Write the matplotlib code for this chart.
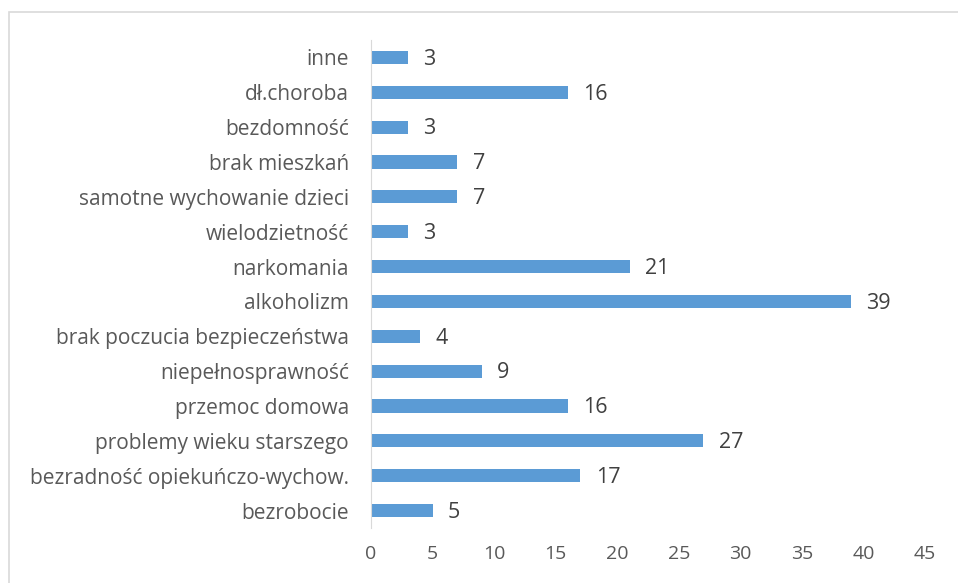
import matplotlib.pyplot as plt
from matplotlib.patches import Rectangle

categories = ["bezrobocie", "bezradność opiekuńczo-wychow.", "problemy wieku starszego",
              "przemoc domowa", "niepełnosprawność", "brak poczucia bezpieczeństwa",
              "alkoholizm", "narkomania", "wielodzietność", "samotne wychowanie dzieci",
              "brak mieszkań", "bezdomność", "dł.choroba", "inne"]
values = [5, 17, 27, 16, 9, 4, 39, 21, 3, 7, 7, 3, 16, 3]

plt.rcParams['font.family'] = ['Open Sans', 'DejaVu Sans']

fig = plt.figure(figsize=(9.58, 5.83), dpi=100)
ax = fig.add_axes([371 / 958, 1 - 528 / 583, (925 - 371) / 958, (528 - 40) / 583])

y = range(len(categories))
ax.barh(y, values, height=0.38, color='#5B9BD5')
for i, v in enumerate(values):
    ax.text(v + 1.25, i - 0.05, str(v), va='center', ha='left', fontsize=15.5, color='#404040')

ax.set_xlim(0, 45)
ax.set_ylim(-0.5, len(categories) - 0.5)
ax.set_xticks(range(0, 46, 5))
ax.set_yticks(list(y))
ax.set_yticklabels(categories)
ax.tick_params(axis='y', length=0, colors='#595959', labelsize=15, pad=16)
ax.tick_params(axis='x', length=0, colors='#595959', labelsize=14, pad=12.5)
for s in ['top', 'right', 'bottom']:
    ax.spines[s].set_visible(False)
ax.spines['left'].set_color('#D9D9D9')

# chart area border (partly cropped)
fig.patches.append(Rectangle((9 / 958, -0.2), 1.5, 1.2 - 12 / 583, transform=fig.transFigure,
                             fill=False, edgecolor='#D9D9D9', linewidth=1.2))

fig.savefig('out.png', dpi=100)
